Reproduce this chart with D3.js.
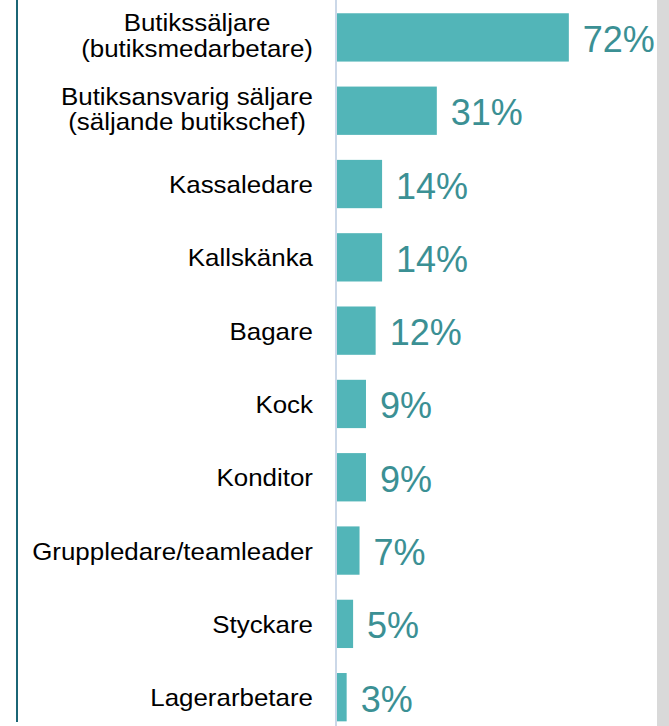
<!DOCTYPE html>
<html>
<head>
<meta charset="utf-8">
<script src="https://cdn.jsdelivr.net/npm/d3@7"></script>
<style>
  html, body { margin: 0; padding: 0; background: #fff; }
  svg { display: block; }
</style>
</head>
<body>
<svg id="chart" width="669" height="726"></svg>
<script>
const categories = [
  ["Butikssäljare", "(butiksmedarbetare)"],
  ["Butiksansvarig säljare", "(säljande butikschef)"],
  ["Kassaledare"],
  ["Kallskänka"],
  ["Bagare"],
  ["Kock"],
  ["Konditor"],
  ["Gruppledare/teamleader"],
  ["Styckare"],
  ["Lagerarbetare"]
];
const values = [72, 31, 14, 14, 12, 9, 9, 7, 5, 3];
const valueLabels = ["72%", "31%", "14%", "14%", "12%", "9%", "9%", "7%", "5%", "3%"];

const W = 669, H = 726;
const svg = d3.select("#chart");
const font = "'Liberation Sans', Arial, sans-serif";

// right gray strip
svg.append("rect").attr("x", 657).attr("y", 0).attr("width", W - 657).attr("height", H).attr("fill", "#d9d9d9");

const x = d3.scaleLinear().domain([0, 100]).range([337, 659]);
const ids = d3.range(categories.length);
const y = d3.scaleBand().domain(ids).range([0.8, 733.8]).paddingInner(0.341).paddingOuter(0.17);

// left border line
svg.append("line").attr("x1", 17).attr("x2", 17).attr("y1", 0).attr("y2", 722)
  .attr("stroke", "#1b6575").attr("stroke-width", 2);

// bars
svg.selectAll("rect.bar").data(ids).join("rect").attr("class", "bar")
  .attr("x", x(0))
  .attr("y", i => y(i))
  .attr("width", i => x(values[i]) - x(0))
  .attr("height", y.bandwidth())
  .attr("fill", "#52b5b8");

// axis line
svg.append("line").attr("x1", x(0) - 1).attr("x2", x(0) - 1).attr("y1", 0).attr("y2", H)
  .attr("stroke", "#cbd8e8").attr("stroke-width", 2);

// value labels
svg.selectAll("text.val").data(ids).join("text").attr("class", "val")
  .attr("x", i => x(values[i]) + 14)
  .attr("y", i => y(i) + y.bandwidth() / 2 + 14.5)
  .attr("font-family", font)
  .attr("font-size", 36)
  .attr("fill", "#3b9094")
  .text(i => valueLabels[i]);

// category labels (multi-line blocks: lines centred on each other, block right-aligned)
const lab = svg.selectAll("g.cat").data(ids).join("g").attr("class", "cat")
  .attr("transform", i => `translate(313,${y(i) + y.bandwidth() / 2}) scale(1.08,1)`);
lab.each(function(i) {
  const lines = categories[i];
  const g = d3.select(this);
  const offs = lines.length === 1 ? [9] : [-6, 19.6];
  const texts = lines.map((t, k) => g.append("text")
      .attr("y", offs[k])
      .attr("font-family", font)
      .attr("font-size", 24)
      .attr("fill", "#000")
      .text(t));
  const widths = texts.map(tx => tx.node().getComputedTextLength());
  const maxW = d3.max(widths);
  texts.forEach(tx => tx.attr("x", -maxW / 2).attr("text-anchor", "middle"));
});
</script>
</body>
</html>
